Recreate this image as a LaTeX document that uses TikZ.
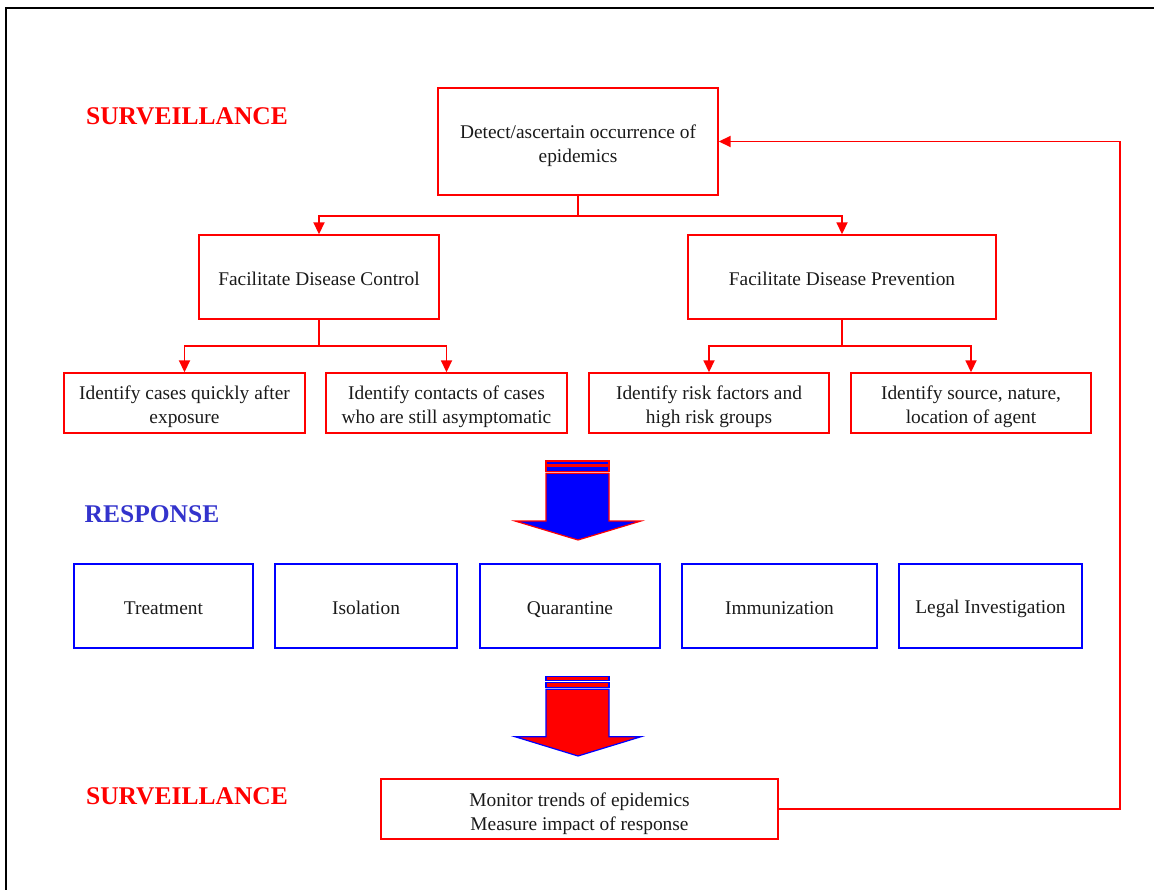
\documentclass[tikz,border=0pt]{standalone}
\usepackage{fontspec}
\setmainfont{Liberation Serif}
\usetikzlibrary{arrows.meta}
\definecolor{rred}{RGB}{255,0,0}
\definecolor{rblue}{RGB}{0,0,255}
\definecolor{lblue}{RGB}{51,51,204}
\definecolor{txt}{RGB}{26,26,26}
\newcommand{\topstrut}{\rule{0pt}{19.8pt}}
\newcommand{\botstrut}{\rule[-2.2pt]{0pt}{2.2pt}}
\newcommand{\twolines}[3][4pt]{\raisebox{-#1}[\height][\depth]{\begin{tabular}{@{}c@{}}#2\\#3\end{tabular}}}
\begin{document}
\begin{tikzpicture}[x=1pt,y=-1pt,
  boxbase/.style={draw=rred, line width=1.4pt, inner sep=0pt, align=center, text=txt,
    font=\fontsize{19.4}{24}\selectfont},
  rbox/.style={boxbase, execute at begin node=\topstrut, execute at end node=\botstrut},
  rbox2/.style={boxbase},
  bbox/.style={rbox, draw=rblue},
  conn/.style={draw=rred, color=rred, line width=1.8pt},
  arr/.style={conn, -{Triangle[length=12pt,width=11pt]}},
  title/.style={font=\fontsize{25.5}{30}\selectfont\bfseries, inner sep=0pt},
  bigarrow/.style={line width=1.2pt, line join=miter}]
\useasboundingbox (0,0) rectangle (1154,890);
\draw[line width=2pt] (6,890) -- (6,8) -- (1154,8);

% titles
\node[title, text=rred] (t1) at (187,116) {SURVEILLANCE};
\node[title, text=lblue] (t2) at (152,514) {RESPONSE};
\node[title, text=rred] (t3) at (187,796) {SURVEILLANCE};

% surveillance boxes
\node[rbox2, minimum width=280pt, minimum height=107pt] (detect) at (578,141.5) {\twolines{Detect/ascertain occurrence of}{epidemics}};
\node[rbox, minimum width=240pt, minimum height=84pt] (control) at (319,277) {Facilitate Disease Control};
\node[rbox, minimum width=308pt, minimum height=84pt] (prevention) at (842,277) {Facilitate Disease Prevention};
\node[rbox2, minimum width=241pt, minimum height=60pt] (c1) at (184.5,403) {\twolines{Identify cases quickly after}{exposure}};
\node[rbox2, minimum width=241pt, minimum height=60pt] (c2) at (446.5,403) {\twolines{Identify contacts of cases}{who are still asymptomatic}};
\node[rbox2, minimum width=240pt, minimum height=60pt] (c3) at (709,403) {\twolines{Identify risk factors and}{high risk groups}};
\node[rbox2, minimum width=240pt, minimum height=60pt] (c4) at (971,403) {\twolines{Identify source, nature,}{location of agent}};

% response boxes
\node[bbox, minimum width=179pt, minimum height=84pt] (r1) at (163.5,606) {Treatment};
\node[bbox, minimum width=182pt, minimum height=84pt] (r2) at (366,606) {Isolation};
\node[bbox, minimum width=180pt, minimum height=84pt] (r3) at (570,606) {Quarantine};
\node[bbox, minimum width=195pt, minimum height=84pt] (r4) at (779.5,606) {Immunization};
\node[bbox, minimum width=183pt, minimum height=84pt] (r5) at (990.5,606) {Legal Investigation};

% monitor box
\node[rbox2, minimum width=397pt, minimum height=60pt] (monitor) at (579.5,809) {\twolines[5pt]{Monitor trends of epidemics}{Measure impact of response}};

% connectors
\coordinate (j1) at ([yshift=-20.5pt]detect.south);
\coordinate (j2) at ([yshift=-26.5pt]control.south);
\coordinate (j3) at ([yshift=-26.5pt]prevention.south);
\draw[conn] (detect.south) -- (j1);
\draw[arr] (j1) -| (control.north);
\draw[arr] (j1) -| (prevention.north);
\draw[conn] (control.south) -- (j2);
\draw[arr] (j2) -| (c1.north);
\draw[arr] (j2) -| (c2.north);
\draw[conn] (prevention.south) -- (j3);
\draw[arr] (j3) -| (c3.north);
\draw[arr] (j3) -| (c4.north);
\coordinate (fb) at (1120,141.5);
\draw[arr] (monitor.east) -| (fb) -- (detect.east);

% big blue arrow
\begin{scope}[bigarrow, draw=rred, fill=rblue]
\filldraw (546,461) rectangle (609,464.3);
\filldraw (546,466) rectangle (609,471.7);
\filldraw (546,473.3) -- (609,473.3) -- (609,521) -- (641,521) -- (578,540) -- (515,521) -- (546,521) -- cycle;
\end{scope}
% big red arrow
\begin{scope}[bigarrow, draw=rblue, fill=rred]
\filldraw (546,676.7) rectangle (609,680.7);
\filldraw (546,682.3) rectangle (609,687.7);
\filldraw (546,689.3) -- (609,689.3) -- (609,736.7) -- (641,736.7) -- (578,756) -- (515,736.7) -- (546,736.7) -- cycle;
\end{scope}
\end{tikzpicture}
\end{document}
